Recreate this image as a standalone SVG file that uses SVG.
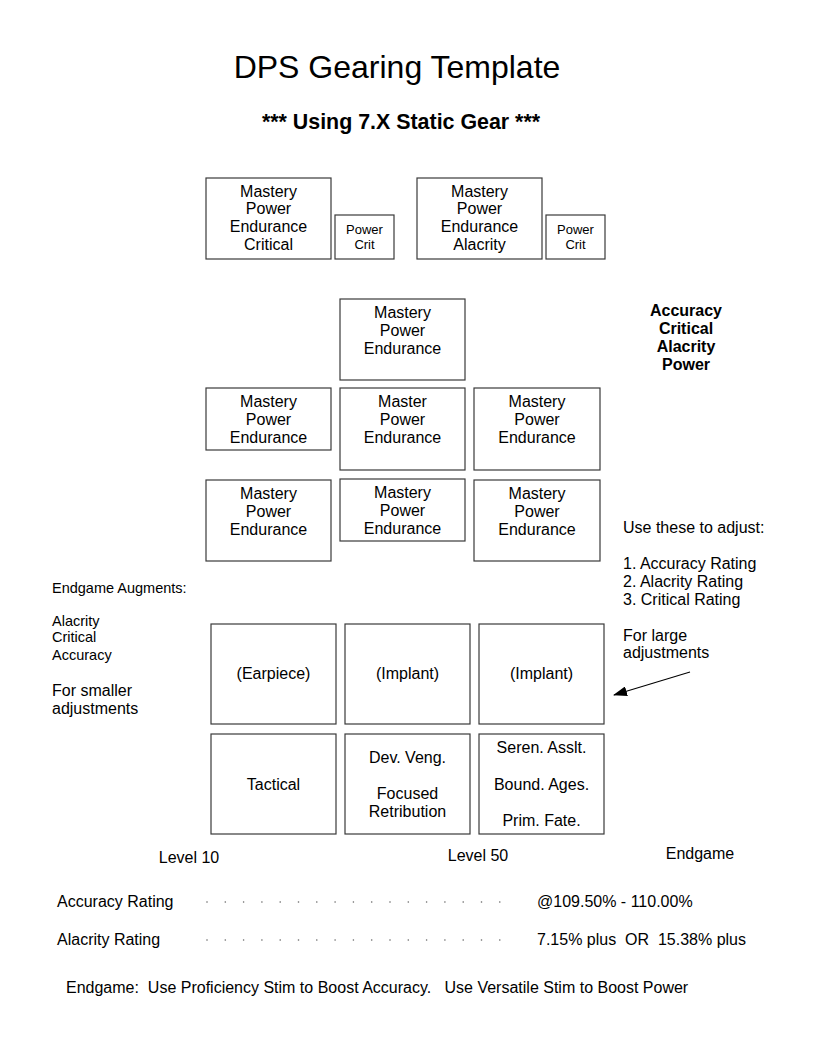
<svg xmlns="http://www.w3.org/2000/svg" width="816" height="1056" viewBox="0 0 816 1056">
<defs>
<style>
text{font-family:"Liberation Sans",Arial,sans-serif;font-size:16px;fill:#000}
.c{text-anchor:middle}
.s{font-size:13px}
.sm{font-size:14.5px}
.b{font-weight:bold}
.pre{white-space:pre}
rect.box{fill:#fff;stroke:#3a3a3a;stroke-width:1.2}
.dot{fill:#666}
</style>
<marker id="ah" viewBox="0 0 14 10" refX="13" refY="5" markerWidth="14" markerHeight="10" markerUnits="userSpaceOnUse" orient="auto">
<path d="M0,0 L14,5 L0,10 z" fill="#000"/>
</marker>
</defs>
<rect width="816" height="1056" fill="#fff"/>

<g id="title">
<text class="c" x="397" y="78" style="font-size:32px">DPS Gearing Template</text>
<text class="c b" x="401" y="129" style="font-size:21.4px">*** Using 7.X Static Gear ***</text>
</g>

<g id="top-left">
<rect class="box" x="206" y="178" width="125" height="81"/>
<text class="c" x="268.5" y="197">Mastery</text>
<text class="c" x="268.5" y="214">Power</text>
<text class="c" x="268.5" y="232">Endurance</text>
<text class="c" x="268.5" y="250">Critical</text>
</g>
<g id="top-left-small">
<rect class="box" x="335" y="215" width="59" height="44"/>
<text class="c s" x="364.5" y="234">Power</text>
<text class="c s" x="364.5" y="249">Crit</text>
</g>
<g id="top-right">
<rect class="box" x="417" y="178" width="125" height="81"/>
<text class="c" x="479.5" y="197">Mastery</text>
<text class="c" x="479.5" y="214">Power</text>
<text class="c" x="479.5" y="232">Endurance</text>
<text class="c" x="479.5" y="250">Alacrity</text>
</g>
<g id="top-right-small">
<rect class="box" x="546" y="215" width="59" height="44"/>
<text class="c s" x="575.5" y="234">Power</text>
<text class="c s" x="575.5" y="249">Crit</text>
</g>

<g id="mid-top">
<rect class="box" x="340" y="299" width="125" height="81"/>
<text class="c" x="402.5" y="318">Mastery</text>
<text class="c" x="402.5" y="336">Power</text>
<text class="c" x="402.5" y="354">Endurance</text>
</g>
<g id="row1-left">
<rect class="box" x="206" y="388" width="125" height="62"/>
<text class="c" x="268.5" y="407">Mastery</text>
<text class="c" x="268.5" y="425">Power</text>
<text class="c" x="268.5" y="443">Endurance</text>
</g>
<g id="row1-center">
<rect class="box" x="340" y="388" width="125" height="82"/>
<text class="c" x="402.5" y="407">Master</text>
<text class="c" x="402.5" y="425">Power</text>
<text class="c" x="402.5" y="443">Endurance</text>
</g>
<g id="row1-right">
<rect class="box" x="474" y="388" width="126" height="82"/>
<text class="c" x="537" y="407">Mastery</text>
<text class="c" x="537" y="425">Power</text>
<text class="c" x="537" y="443">Endurance</text>
</g>
<g id="row2-left">
<rect class="box" x="206" y="480" width="125" height="81"/>
<text class="c" x="268.5" y="499">Mastery</text>
<text class="c" x="268.5" y="517">Power</text>
<text class="c" x="268.5" y="535">Endurance</text>
</g>
<g id="row2-center">
<rect class="box" x="340" y="479" width="125" height="62"/>
<text class="c" x="402.5" y="498">Mastery</text>
<text class="c" x="402.5" y="516">Power</text>
<text class="c" x="402.5" y="534">Endurance</text>
</g>
<g id="row2-right">
<rect class="box" x="474" y="480" width="126" height="81"/>
<text class="c" x="537" y="499">Mastery</text>
<text class="c" x="537" y="517">Power</text>
<text class="c" x="537" y="535">Endurance</text>
</g>

<g id="stats-priority">
<text class="c b" x="686" y="316">Accuracy</text>
<text class="c b" x="686" y="334">Critical</text>
<text class="c b" x="686" y="352">Alacrity</text>
<text class="c b" x="686" y="370">Power</text>
</g>

<g id="adjust-notes">
<text x="623" y="533">Use these to adjust:</text>
<text x="623" y="569">1. Accuracy Rating</text>
<text x="623" y="587">2. Alacrity Rating</text>
<text x="623" y="605">3. Critical Rating</text>
<text x="623" y="641">For large</text>
<text x="623" y="658">adjustments</text>
</g>

<g id="augment-notes">
<text class="sm" x="52" y="593">Endgame Augments:</text>
<text class="sm" x="52" y="626">Alacrity</text>
<text class="sm" x="52" y="642">Critical</text>
<text class="sm" x="52" y="660">Accuracy</text>
<text x="52" y="696">For smaller</text>
<text x="52" y="714">adjustments</text>
</g>

<g id="earpiece">
<rect class="box" x="211" y="624" width="125" height="100"/>
<text class="c" x="273.5" y="679">(Earpiece)</text>
</g>
<g id="implant1">
<rect class="box" x="345" y="624" width="125" height="100"/>
<text class="c" x="407.5" y="679">(Implant)</text>
</g>
<g id="implant2">
<rect class="box" x="479" y="624" width="125" height="100"/>
<text class="c" x="541.5" y="679">(Implant)</text>
</g>
<g id="tactical">
<rect class="box" x="211" y="734" width="125" height="100"/>
<text class="c" x="273.5" y="790">Tactical</text>
</g>
<g id="level50">
<rect class="box" x="345" y="734" width="125" height="100"/>
<text class="c" x="407.5" y="763">Dev. Veng.</text>
<text class="c" x="407.5" y="799">Focused</text>
<text class="c" x="407.5" y="817">Retribution</text>
</g>
<g id="endgame-set">
<rect class="box" x="479" y="734" width="125" height="100"/>
<text class="c" x="541.5" y="753">Seren. Asslt.</text>
<text class="c" x="541.5" y="790">Bound. Ages.</text>
<text class="c" x="541.5" y="826">Prim. Fate.</text>
</g>

<g id="levels">
<text class="c" x="189" y="863">Level 10</text>
<text class="c" x="478" y="861">Level 50</text>
<text class="c" x="700" y="859">Endgame</text>
</g>

<g id="ratings">
<text x="57" y="907">Accuracy Rating</text>
<text x="537" y="907">@109.50% - 110.00%</text>
<text x="57" y="945">Alacrity Rating</text>
<text class="pre" x="537" y="945" xml:space="preserve">7.15% plus  OR  15.38% plus</text>
</g>
<g id="dots1" class="dot">
<circle cx="207" cy="902" r="0.8"/><circle cx="225.3" cy="902" r="0.8"/><circle cx="243.6" cy="902" r="0.8"/><circle cx="261.9" cy="902" r="0.8"/><circle cx="280.2" cy="902" r="0.8"/><circle cx="298.5" cy="902" r="0.8"/><circle cx="316.8" cy="902" r="0.8"/><circle cx="335.1" cy="902" r="0.8"/><circle cx="353.4" cy="902" r="0.8"/><circle cx="371.7" cy="902" r="0.8"/><circle cx="390" cy="902" r="0.8"/><circle cx="408.3" cy="902" r="0.8"/><circle cx="426.6" cy="902" r="0.8"/><circle cx="444.9" cy="902" r="0.8"/><circle cx="463.2" cy="902" r="0.8"/><circle cx="481.5" cy="902" r="0.8"/><circle cx="499.8" cy="902" r="0.8"/>
</g>
<g id="dots2" class="dot">
<circle cx="207" cy="940" r="0.8"/><circle cx="225.3" cy="940" r="0.8"/><circle cx="243.6" cy="940" r="0.8"/><circle cx="261.9" cy="940" r="0.8"/><circle cx="280.2" cy="940" r="0.8"/><circle cx="298.5" cy="940" r="0.8"/><circle cx="316.8" cy="940" r="0.8"/><circle cx="335.1" cy="940" r="0.8"/><circle cx="353.4" cy="940" r="0.8"/><circle cx="371.7" cy="940" r="0.8"/><circle cx="390" cy="940" r="0.8"/><circle cx="408.3" cy="940" r="0.8"/><circle cx="426.6" cy="940" r="0.8"/><circle cx="444.9" cy="940" r="0.8"/><circle cx="463.2" cy="940" r="0.8"/><circle cx="481.5" cy="940" r="0.8"/><circle cx="499.8" cy="940" r="0.8"/>
</g>

<g id="footer">
<text class="pre" x="66" y="993" xml:space="preserve">Endgame:  Use Proficiency Stim to Boost Accuracy.   Use Versatile Stim to Boost Power</text>
</g>

<g id="connectors">
<line x1="690" y1="672" x2="614" y2="695" stroke="#000" stroke-width="1.1" marker-end="url(#ah)"/>
</g>
</svg>
